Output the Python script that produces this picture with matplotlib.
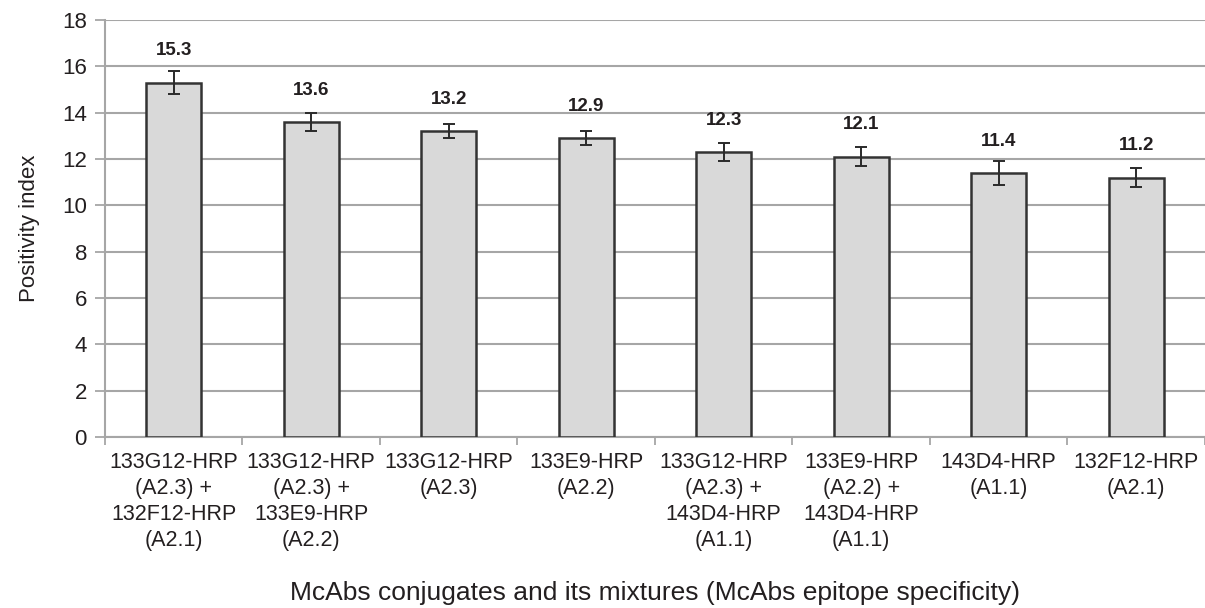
import numpy as np
import matplotlib
matplotlib.use("Agg")
from matplotlib import pyplot as plt

# data
labels = [
    "133G12-HRP\n(A2.3) +\n132F12-HRP\n(A2.1)",
    "133G12-HRP\n(A2.3) +\n133E9-HRP\n(A2.2)",
    "133G12-HRP\n(A2.3)",
    "133E9-HRP\n(A2.2)",
    "133G12-HRP\n(A2.3) +\n143D4-HRP\n(A1.1)",
    "133E9-HRP\n(A2.2) +\n143D4-HRP\n(A1.1)",
    "143D4-HRP\n(A1.1)",
    "132F12-HRP\n(A2.1)",
]
values = [15.3, 13.6, 13.2, 12.9, 12.3, 12.1, 11.4, 11.2]
errors = [0.5, 0.4, 0.3, 0.3, 0.4, 0.4, 0.5, 0.4]

plt.rcParams["font.family"] = ["Liberation Sans", "DejaVu Sans"]
text_color = "#231f20"
grid_color = "#a6a6a6"

fig = plt.figure(figsize=(12.05, 6.08), dpi=100)
ax = fig.add_axes([0.0871, 0.2812, 0.9129, 0.6858])

x = np.arange(len(values))
ax.bar(x, values, width=0.4, color="#d9d9d9", edgecolor="#333333",
       linewidth=1.8, zorder=3)
ax.errorbar(x, values, yerr=errors, fmt="none", ecolor="#2a2a2a",
            elinewidth=1.4, capsize=4, capthick=1.4, zorder=4)

for xi, v in zip(x, values):
    ax.annotate(f"{v:.1f}", xy=(xi, v), xytext=(0, 23), textcoords="offset points",
                ha="center", va="center", fontsize=13.5, fontweight="bold",
                color=text_color)

ax.set_xlim(-0.5, len(values) - 0.5)
ax.set_ylim(0, 18)
ax.set_yticks(np.arange(0, 19, 2))
ax.yaxis.grid(True, color=grid_color, linewidth=1.5, zorder=0)
ax.set_axisbelow(True)

ax.set_xticks(x)
ax.set_xticklabels(labels, fontsize=15.5, color=text_color, linespacing=1.3)
ax.set_xticks(np.arange(-0.5, len(values), 1), minor=True)
ax.tick_params(axis="x", which="major", length=0, pad=11)
ax.tick_params(axis="x", which="minor", length=6, width=1.3, color=grid_color)
ax.tick_params(axis="y", length=7, width=1.3, color=grid_color,
               labelsize=16, labelcolor=text_color, pad=6)

for side in ["top", "right"]:
    ax.spines[side].set_visible(False)
for side in ["left", "bottom"]:
    ax.spines[side].set_color(grid_color)
    ax.spines[side].set_linewidth(1.5)

ax.set_ylabel("Positivity index", fontsize=16, color=text_color, labelpad=16)
fig.text(0.5 * (0.0871 + 1.0), 1 - 593 / 608,
         "McAbs conjugates and its mixtures (McAbs epitope specificity)",
         ha="center", va="center", fontsize=19, color=text_color)

fig.savefig("out.png", dpi=100)
